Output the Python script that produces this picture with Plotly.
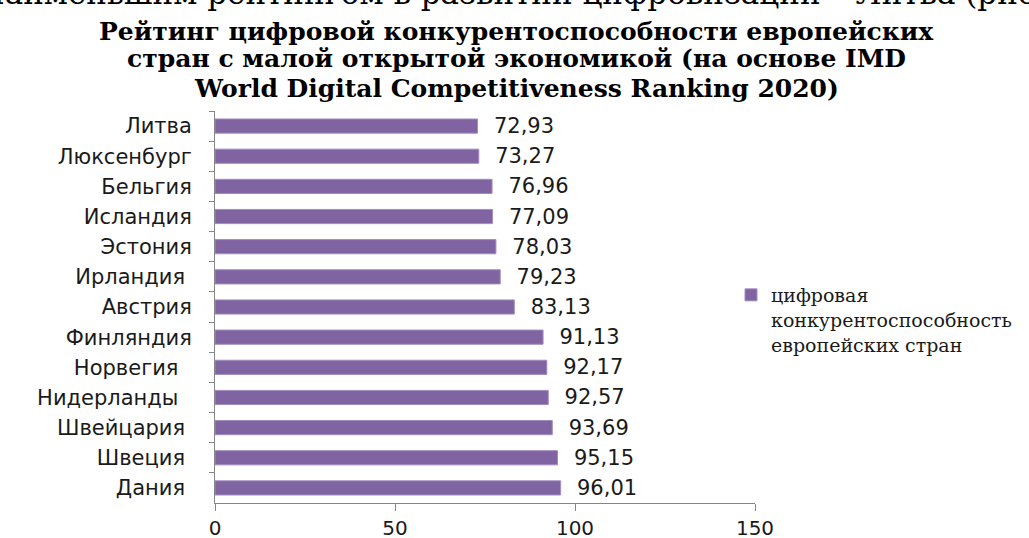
import plotly.graph_objects as go

countries = ["Литва", "Люксенбург", "Бельгия", "Исландия", "Эстония", "Ирландия\u00a0",
             "Австрия", "Финляндия", "Норвегия\u00a0\u00a0", "Нидерланды\u00a0\u00a0", "Швейцария\u00a0",
             "Швеция\u00a0", "Дания\u00a0"]
values = [72.93, 73.27, 76.96, 77.09, 78.03, 79.23, 83.13, 91.13, 92.17, 92.57, 93.69, 95.15, 96.01]
series_name = "цифровая<br>конкурентоспособность<br>европейских стран"
title_lines = ["Рейтинг цифровой конкурентоспособности европейских",
               "стран с малой открытой экономикой (на основе IMD",
               "World Digital Competitiveness Ranking 2020)"]
top_text = "наименьшим рейтингом в развитии цифровизации – Литва (рис."
x_ticks = [0, 50, 100, 150]

L, R, T, B = 215, 274, 111, 35
W, H = 1029, 538
PW, PH = W - L - R, H - T - B


def px_x(x):
    return (x - L) / PW


def px_y(y):
    return (H - B - y) / PH


labels = ["\u00a0\u00a0" + f"{v:.2f}".replace(".", ",") for v in values]

fig = go.Figure()
fig.add_trace(go.Bar(
    y=countries, x=values, orientation="h", name=series_name,
    marker=dict(color="#8064A2", line=dict(color="#A18CC0", width=1)),
    width=0.47, text=labels, textposition="outside", cliponaxis=False,
    constraintext="none",
    textfont=dict(family="DejaVu Sans", size=21, color="#1a1a1a"),
    showlegend=True,
))

ann = []
ys = [31, 59, 88]
for line, yp in zip(title_lines, ys):
    ann.append(dict(text="<b>" + line + "</b>", xref="paper", yref="paper",
                    x=px_x(516), y=px_y(yp), xanchor="center", yanchor="middle",
                    showarrow=False, font=dict(family="DejaVu Serif", size=25, color="#000")))
ann.append(dict(text=top_text, xref="paper", yref="paper", x=px_x(514), y=px_y(-7),
                xanchor="center", yanchor="middle", showarrow=False,
                font=dict(family="DejaVu Serif", size=31, color="#000")))

fig.update_layout(
    width=W, height=H,
    margin=dict(l=L, r=R, t=T, b=B, autoexpand=False),
    paper_bgcolor="white", plot_bgcolor="white",
    annotations=ann,
    legend=dict(x=px_x(731), y=px_y(276), xanchor="left", yanchor="top", valign="top",
                font=dict(family="DejaVu Serif", size=19, color="#1a1a1a"),
                bgcolor="rgba(0,0,0,0)", tracegroupgap=0, itemwidth=30),
    xaxis=dict(range=[0, 150], tickvals=x_ticks, showgrid=False, zeroline=False,
               showline=True, linecolor="#868686", linewidth=1, automargin=False,
               ticks="outside", ticklen=7, tickcolor="#868686", ticklabelstandoff=0,
               tickfont=dict(family="DejaVu Sans", size=20, color="#1a1a1a")),
    yaxis=dict(autorange="reversed", showgrid=False, showline=True, linecolor="#868686",
               linewidth=1, ticks="outside", ticklen=5, tickcolor="#868686", tickson="boundaries",
               ticklabelstandoff=18, automargin=False,
               tickfont=dict(family="DejaVu Sans", size=21, color="#1a1a1a")),
)

fig.write_html("out.html", config={"displayModeBar": False},
               post_script="document.body.style.margin='0';document.body.style.padding='0';")
